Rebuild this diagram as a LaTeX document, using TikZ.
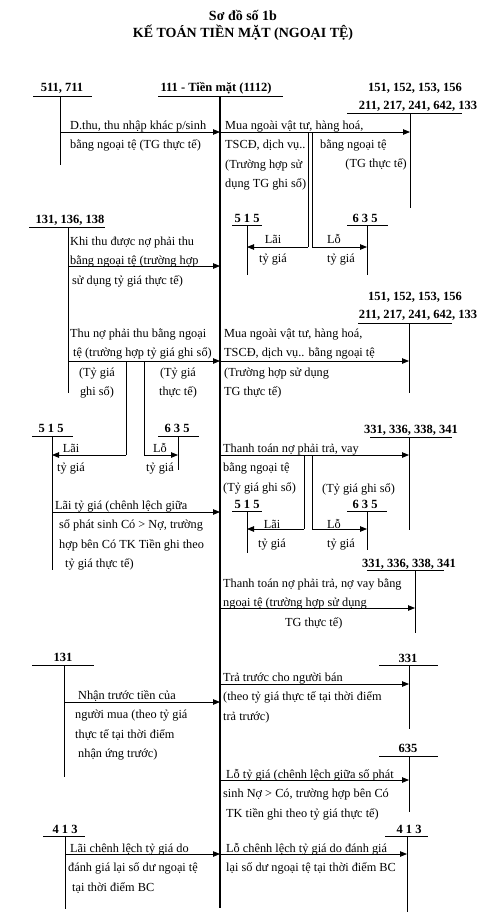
\documentclass[tikz,border=0pt]{standalone}
\usepackage{fontspec}
\setmainfont{Liberation Serif}
\usetikzlibrary{arrows.meta}

\begin{document}
\begin{tikzpicture}[x=1pt,y=-1pt,
  tk/.style={font=\fontsize{12.5}{14}\selectfont\bfseries,inner sep=0pt,anchor=base},
  txt/.style={font=\fontsize{12.3}{19.5}\selectfont,inner sep=0pt,anchor=base west,align=left},
  tline/.style={line width=0.8pt},
  mainline/.style={line width=2.4pt},
  arr/.style={-{Triangle[length=7pt,width=5.5pt]},line width=0.8pt}]
\useasboundingbox (0,0) rectangle (492,924);
% title
\node[font=\fontsize{14}{16}\selectfont\bfseries] (title) at (243,15) {Sơ đồ số 1b};
\node[font=\fontsize{14}{16}\selectfont\bfseries] (subtitle) at (243,33) {KẾ TOÁN TIỀN MẶT (NGOẠI TỆ)};
% 111
\node[tk] (tk111) at (216,91) {111 - Tiền mặt (1112)};
\draw[tline] (158,96) -- (283,96);
\coordinate (v111) at (220,96);
\draw[mainline] (v111) -- (v111 |- 0,908);
% 511, 711
\node[tk] (tk511) at (62,91) {511, 711};
\draw[tline] (33,96) -- (92,96);
\coordinate (v511) at (60,96);
\draw[tline] (v511) -- (v511 |- 0,165);
\draw[arr] (v511 |- 0,132) -- (v111 |- 0,132);
\node[txt] (t511) at (70,148.5) {D.thu, thu nhập khác p/sinh\\bằng ngoại tệ (TG thực tế)};
% 151... (1)
\node[tk] (tk151a) at (415,91) {151, 152, 153, 156};
\node[tk] (tk211a) at (418,109) {211, 217, 241, 642, 133};
\draw[tline] (347,113) -- (462,113);
\coordinate (v211a) at (410,113);
\draw[tline] (v211a) -- (v211a |- 0,208);
\draw[arr] (v111 |- 0,132) -- (v211a |- 0,132);
\node[txt] (t211a) at (225,187.5) {Mua ngoài vật tư, hàng hoá,\\TSCĐ, dịch vụ..\\(Trường hợp sử\\dụng TG ghi sổ)};
\node[txt] (t211b) at (320,148) {bằng ngoại tệ};
\node[txt,anchor=base east] (t211c) at (407,167) {(TG thực tế)};
\coordinate (d1l) at (308,132);
\coordinate (d1r) at (312,132);
\draw[tline] (d1l) -- (d1l |- 0,247);
\draw[tline] (d1r) -- (d1r |- 0,247);
% 515 / 635 (1)
\node[tk] (tk515a) at (247,222) {5 1 5};
\draw[tline] (232,225) -- (262,225);
\coordinate (v515a) at (247,225);
\draw[tline] (v515a) -- (v515a |- 0,275);
\draw[arr] (d1l |- 0,247) -- (v515a |- 0,247);
\node[txt,align=center,anchor=base] (l515a) at (273,262.5) {Lãi\\tỷ giá};
\node[tk] (tk635a) at (365,222) {6 3 5};
\draw[tline] (347,225) -- (388,225);
\coordinate (v635a) at (367,225);
\draw[tline] (v635a) -- (v635a |- 0,275);
\draw[arr] (d1r |- 0,247) -- (v635a |- 0,247);
\node[txt] (l635a) at (327,262.5) {Lỗ\\tỷ giá};
% 131, 136, 138
\node[tk] (tk131a) at (70,223) {131, 136, 138};
\draw[tline] (29,227) -- (105,227);
\coordinate (v131a) at (68,227);
\draw[tline] (v131a) -- (v131a |- 0,393);
\draw[arr] (v131a |- 0,266) -- (v111 |- 0,266);
\node[txt] (t131a) at (70,284) {Khi thu được nợ phải thu\\bằng ngoại tệ (trường hợp\\\hspace*{2pt}sử dụng tỷ giá thực tế)};
\node[txt] (t131b) at (70,356.5) {Thu nợ phải thu bằng ngoại\\\hspace*{3pt}tệ (trường hợp tỷ giá ghi sổ)};
\draw[arr] (v131a |- 0,361) -- (v111 |- 0,361);
\coordinate (d2l) at (126,361);
\coordinate (d2r) at (144,361);
\draw[tline] (d2l) -- (d2l |- 0,455);
\draw[tline] (d2r) -- (d2r |- 0,455);
\node[txt,align=center,anchor=base] (g131b) at (97,395.5) {(Tỷ giá\\ghi sổ)};
\node[txt,align=center,anchor=base] (h131b) at (178,395.5) {(Tỷ giá\\thực tế)};
% 515 / 635 (2)
\node[tk] (tk515b) at (51,432) {5 1 5};
\draw[tline] (32,436) -- (73,436);
\coordinate (v515b) at (52,436);
\draw[tline] (v515b) -- (v515b |- 0,570);
\draw[arr] (d2l |- 0,455) -- (v515b |- 0,455);
\node[txt,align=center,anchor=base] (l515b) at (71,471.5) {Lãi\\tỷ giá};
\node[tk] (tk635b) at (177,432) {6 3 5};
\draw[tline] (158,436) -- (199,436);
\coordinate (v635b) at (178,436);
\draw[tline] (v635b) -- (v635b |- 0,470);
\draw[arr] (d2r |- 0,455) -- (v635b |- 0,455);
\node[txt,align=center,anchor=base] (l635b) at (160,471.5) {Lỗ\\tỷ giá};
\draw[arr] (v515b |- 0,512) -- (v111 |- 0,512);
\node[txt] (t515b) at (55,567.5) {Lãi tỷ giá (chênh lệch giữa\\\hspace*{4pt}số phát sinh Có > Nợ, trường\\\hspace*{4pt}hợp bên Có TK Tiền ghi theo\\\hspace*{10pt}tỷ giá thực tế)};
% 151... (2)
\node[tk] (tk151b) at (415,300) {151, 152, 153, 156};
\node[tk] (tk211b) at (418,318) {211, 217, 241, 642, 133};
\draw[tline] (358,323) -- (452,323);
\coordinate (v211b) at (409,323);
\draw[tline] (v211b) -- (v211b |- 0,393);
\draw[arr] (v111 |- 0,361) -- (v211b |- 0,361);
\node[txt] (t211d) at (224,395.5) {Mua ngoài vật tư, hàng hoá,\\TSCĐ, dịch vụ.. bằng ngoại tệ\\(Trường hợp sử dụng\\TG thực tế)};
% 331... (1)
\node[tk] (tk331a) at (411,433) {331, 336, 338, 341};
\draw[tline] (370,437) -- (452,437);
\coordinate (v331a) at (409,437);
\draw[tline] (v331a) -- (v331a |- 0,530);
\draw[arr] (v111 |- 0,455) -- (v331a |- 0,455);
\node[txt] (t331a) at (223,491) {Thanh toán nợ phải trả, vay\\bằng ngoại tệ\\(Tỷ giá ghi sổ)};
\node[txt] (u331a) at (322,492) {(Tỷ giá ghi sổ)};
\coordinate (d3l) at (304,455);
\coordinate (d3r) at (312,455);
\draw[tline] (d3l) -- (d3l |- 0,529);
\draw[tline] (d3r) -- (d3r |- 0,529);
% 515 / 635 (3)
\node[tk] (tk515c) at (247,508) {5 1 5};
\draw[tline] (232,511) -- (262,511);
\coordinate (v515c) at (247,511);
\draw[tline] (v515c) -- (v515c |- 0,553);
\draw[arr] (d3l |- 0,529) -- (v515c |- 0,529);
\node[txt,align=center,anchor=base] (l515c) at (272,547.5) {Lãi\\tỷ giá};
\node[tk] (tk635c) at (365,508) {6 3 5};
\draw[tline] (347,511) -- (387,511);
\coordinate (v635c) at (367,511);
\draw[tline] (v635c) -- (v635c |- 0,550);
\draw[arr] (d3r |- 0,529) -- (v635c |- 0,529);
\node[txt] (l635c) at (327,547.5) {Lỗ\\tỷ giá};
% 331... (2)
\node[tk] (tk331b) at (409,567) {331, 336, 338, 341};
\draw[tline] (367,570) -- (444,570);
\coordinate (v331b) at (415,570);
\draw[tline] (v331b) -- (v331b |- 0,633);
\draw[arr] (v111 |- 0,608) -- (v331b |- 0,608);
\node[txt] (t331b) at (223,626) {Thanh toán nợ phải trả, nợ vay bằng\\ngoại tệ (trường hợp sử dụng\\\hspace*{62pt}TG thực tế)};
% 131
\node[tk] (tk131c) at (63,661) {131};
\draw[tline] (32,665) -- (94,665);
\coordinate (v131c) at (64,665);
\draw[tline] (v131c) -- (v131c |- 0,777);
\draw[arr] (v131c |- 0,702) -- (v111 |- 0,702);
\node[txt] (t131c) at (75,757.5) {\hspace*{3pt}Nhận trước tiền của\\người mua (theo tỷ giá\\thực tế tại thời điểm\\\hspace*{3pt}nhận ứng trước)};
% 331
\node[tk] (tk331c) at (408,662) {331};
\draw[tline] (379,665) -- (438,665);
\coordinate (v331c) at (409,665);
\draw[tline] (v331c) -- (v331c |- 0,729);
\draw[arr] (v111 |- 0,684) -- (v331c |- 0,684);
\node[txt] (t331c) at (223,720) {Trả trước cho người bán\\(theo tỷ giá thực tế tại thời điểm\\trả trước)};
% 635
\node[tk] (tk635d) at (408,752) {635};
\draw[tline] (379,756) -- (438,756);
\coordinate (v635d) at (409,756);
\draw[tline] (v635d) -- (v635d |- 0,812);
\draw[arr] (v111 |- 0,780) -- (v635d |- 0,780);
\node[txt] (t635d) at (223,817) {\hspace*{3pt}Lỗ tỷ giá (chênh lệch giữa số phát\\sinh Nợ > Có, trường hợp bên Có\\\hspace*{3pt}TK tiền ghi theo tỷ giá thực tế)};
% 413
\node[tk] (tk413a) at (65,833) {4 1 3};
\draw[tline] (43,836) -- (85,836);
\coordinate (v413a) at (65,836);
\draw[tline] (v413a) -- (v413a |- 0,909);
\draw[arr] (v413a |- 0,854) -- (v111 |- 0,854);
\node[txt] (t413a) at (68,891) {\hspace*{2pt}Lãi chênh lệch tỷ giá do\\đánh giá lại số dư ngoại tệ\\\hspace*{4pt}tại thời điểm BC};
\node[tk] (tk413b) at (409,833) {4 1 3};
\draw[tline] (385,836) -- (428,836);
\coordinate (v413b) at (407,836);
\draw[tline] (v413b) -- (v413b |- 0,912);
\draw[arr] (v111 |- 0,854) -- (v413b |- 0,854);
\node[txt] (t413b) at (226,871.5) {Lỗ chênh lệch tỷ giá do đánh giá\\lại số dư ngoại tệ tại thời điểm BC};
\end{tikzpicture}
\end{document}
